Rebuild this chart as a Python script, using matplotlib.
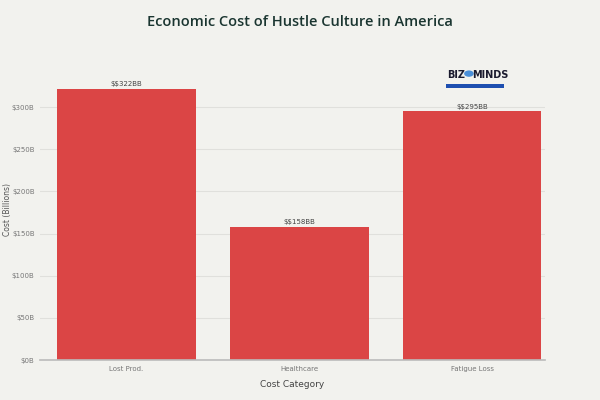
import matplotlib.pyplot as plt
from matplotlib.patches import Rectangle

plt.rcParams['text.parse_math'] = False

categories = ['Lost Prod.', 'Healthcare', 'Fatigue Loss']
costs = [322, 158, 295]
yticks = [0, 50, 100, 150, 200, 250, 300]

bg = '#f2f2ee'
bar_col = '#db4545'

fig = plt.figure(figsize=(6, 4), dpi=100, facecolor=bg)
ax = fig.add_axes([0.067, 0.10, 0.841, 0.75], facecolor=bg)

x = range(len(categories))
ax.bar(x, costs, width=0.8, color=bar_col, zorder=2)
for xi, v in zip(x, costs):
    ax.text(xi, v + 2, f'$${v}BB', ha='center', va='bottom', fontsize=5, color='#444444')

ax.set_xlim(-0.5, 2.42)
ax.set_ylim(0, 356)
ax.set_yticks(yticks)
ax.set_yticklabels([f'${t}B' for t in yticks])
ax.set_xticks(list(x))
ax.set_xticklabels(categories)
ax.tick_params(axis='both', length=0, labelsize=5, labelcolor='#777777')
ax.tick_params(axis='y', pad=4)
ax.tick_params(axis='x', pad=4)
ax.grid(axis='y', color='#e0e0dc', linewidth=0.8, zorder=0)
for s in ['top', 'right', 'left']:
    ax.spines[s].set_visible(False)
ax.spines['bottom'].set_color('#bbbbbb')
ax.spines['bottom'].set_linewidth(1.2)

ax.set_xlabel('Cost Category', fontsize=6.5, color='#444444', labelpad=6)
ax.set_ylabel('Cost (Billions)', fontsize=5.5, color='#555555')
ax.yaxis.set_label_coords(-0.056, 0.5)

fig.text(0.5, 0.945, 'Economic Cost of Hustle Culture in America', ha='center', va='center',
         fontsize=10.5, color='#1a3530', fontweight='semibold', family='Open Sans')

# logo
fig.text(0.776, 0.812, 'BIZ', ha='right', va='center', fontsize=7, fontweight='bold', color='#1a1a2e')
fig.text(0.787, 0.812, 'MINDS', ha='left', va='center', fontsize=7, fontweight='bold', color='#1a1a2e')
fig.patches.append(Rectangle((0.743, 0.779), 0.097, 0.012, transform=fig.transFigure,
                             facecolor='#1e4fb0', edgecolor='none'))
fig.patches.append(plt.Circle((0.7815, 0.816), 0.008, transform=fig.transFigure,
                              facecolor='#4a8fd8', edgecolor='none'))

fig.savefig('out.png', dpi=100, facecolor=bg)
